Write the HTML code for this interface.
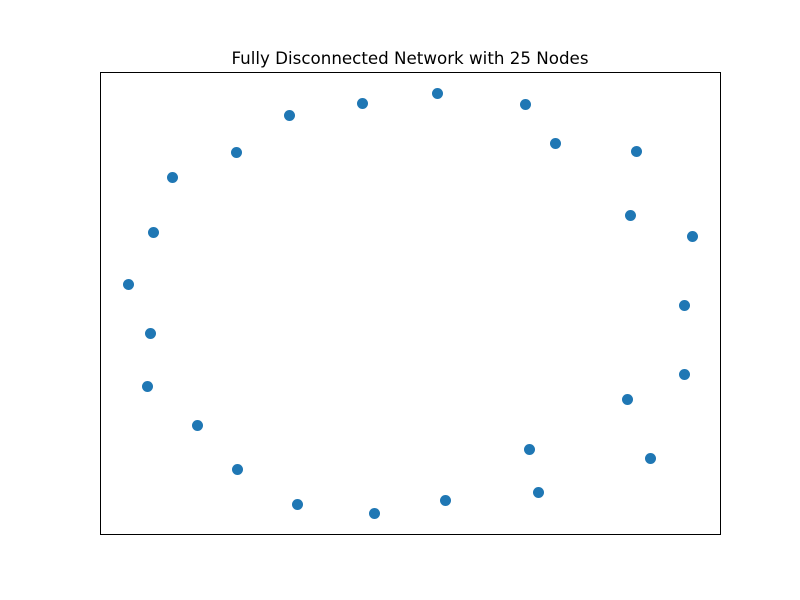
<!DOCTYPE html>
<html>
<head>
<meta charset="utf-8">
<style>
html,body{margin:0;padding:0;background:#fff;}
svg{display:block;font-family:"DejaVu Sans","Liberation Sans",sans-serif;}
</style>
</head>
<body>
<svg id="chart" width="800" height="600" viewBox="0 0 800 600">
  <rect x="0" y="0" width="800" height="600" fill="#fff"/>
  <text x="410" y="64" text-anchor="middle" font-size="16.7" fill="#000">Fully Disconnected Network with 25 Nodes</text>
  <g id="nodes"></g>
  <rect x="100.5" y="72.5" width="620" height="462" fill="none" stroke="#000" stroke-width="1"/>
</svg>
<script>
const nodeIds = [0,1,2,3,4,5,6,7,8,9,10,11,12,13,14,15,16,17,18,19,20,21,22,23,24];
const nodeX = [337,425,455,536,530,592,584,584,527,550,429,438,345,274,197,137,97,47,50,28,53,72,136,189,262];
const nodeY = [441,430,391,383,319,298,229,160,135,76,85,42,34,21,30,65,109,148,201,250,302,357,382,419,431];
const xDomain = [0,620], yDomain = [0,462];
const plot = {left:100.5, top:72.5, width:620, height:462};
function xScale(v){return plot.left + (v - xDomain[0])/(xDomain[1]-xDomain[0])*plot.width;}
function yScale(v){return plot.top + plot.height - (v - yDomain[0])/(yDomain[1]-yDomain[0])*plot.height;}
const g = document.getElementById('nodes');
const ns = 'http://www.w3.org/2000/svg';
nodeIds.forEach(function(id,i){
  const c = document.createElementNS(ns,'circle');
  c.setAttribute('cx', xScale(nodeX[i]));
  c.setAttribute('cy', yScale(nodeY[i]));
  c.setAttribute('r', 5.5);
  c.setAttribute('fill', '#1f77b4');
  
  
  g.appendChild(c);
});
</script>
</body>
</html>
